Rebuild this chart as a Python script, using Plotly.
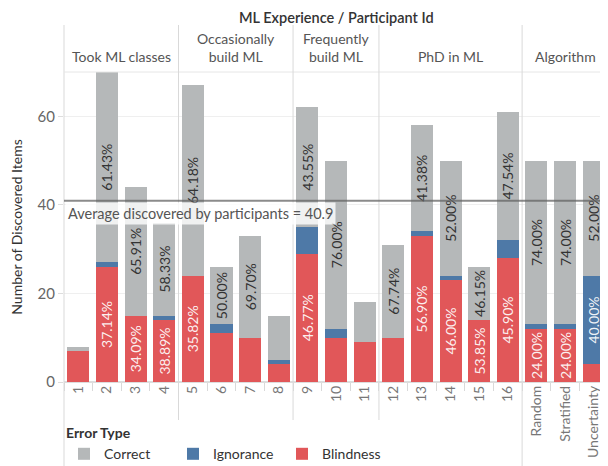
import plotly.graph_objects as go

participants = ["1", "2", "3", "4", "5", "6", "7", "8", "9", "10", "11", "12",
                "13", "14", "15", "16", "Random", "Stratified", "Uncertainty"]
groups = ["Took ML classes", "Occasionally<br>build ML", "Frequently<br>build ML", "PhD in ML", "Algorithm"]
group_sizes = [4, 4, 3, 5, 3]
correct = [1, 43, 29, 21, 43, 13, 23, 10, 27, 38, 9, 21, 24, 26, 12, 29, 37, 37, 26]
ignorance = [0, 1, 0, 1, 0, 2, 0, 1, 6, 2, 0, 0, 1, 1, 0, 4, 1, 1, 20]
blindness = [7, 26, 15, 14, 24, 11, 10, 4, 29, 10, 9, 10, 33, 23, 14, 28, 12, 12, 4]

n_people = sum(group_sizes[:-1])
totals = [c + i + b for c, i, b in zip(correct, ignorance, blindness)]
average = sum(totals[:n_people]) / n_people

FONT = "Lato"
GRAY, BLUE, RED = "#b5b8b9", "#4e79a7", "#e15759"
MIN_LABEL = 12


def labels(vals):
    return [f"{v / t * 100:.2f}%" if v >= MIN_LABEL else "" for v, t in zip(vals, totals)]


fig = go.Figure()
for name, vals, color, tcol in [("Blindness", blindness, RED, "rgba(255,255,255,0.92)"),
                                 ("Ignorance", ignorance, BLUE, "rgba(255,255,255,0.92)"),
                                 ("Correct", correct, GRAY, "#333333")]:
    fig.add_trace(go.Bar(
        x=participants, y=vals, name=name, marker=dict(color=color, line=dict(width=0)),
        text=labels(vals), textposition="inside", insidetextanchor="middle",
        textangle=-90, textfont=dict(family=FONT, size=14, color=tcol),
        hoverinfo="skip"))

# page body has an 8px margin: work in screen pixels and convert
OFF = 8
W, H = 608 - OFF, 466 - OFF
S_LEFT, S_TOP, S_BOT = 64, 72, 382
ph = S_BOT - S_TOP


def py(pix):
    return (S_BOT - pix) / ph


line_col = "#d9d9d9"
shapes = []
shapes.append(dict(type="line", xref="paper", yref="paper", x0=0, x1=0, y0=py(25), y1=py(470),
                   line=dict(color=line_col, width=1)))
shapes.append(dict(type="line", xref="paper", yref="paper", x0=0, x1=1, y0=1, y1=1,
                   line=dict(color="#e6e6e6", width=1)))
pos = -0.5
for gi, s in enumerate(group_sizes[:-1]):
    pos += s
    bottom = 470 if gi == len(group_sizes) - 2 else 420
    shapes.append(dict(type="line", xref="x", yref="paper", x0=pos, x1=pos, y0=py(25), y1=py(bottom),
                       line=dict(color=line_col, width=1)))
shapes.append(dict(type="line", xref="paper", yref="y", x0=0, x1=1, y0=average, y1=average,
                   line=dict(color="rgba(100,100,100,0.75)", width=2), layer="above"))

annotations = []
start = 0
for g, s in zip(groups, group_sizes):
    center = start + (s - 1) / 2
    annotations.append(dict(text=g, x=center, xref="x", y=py(67), yref="paper", yanchor="bottom",
                            showarrow=False, font=dict(family=FONT, size=14, color="#555555")))
    start += s
annotations.append(dict(text="ML Experience / Participant Id", x=0.5, xref="paper", y=py(17.5), yref="paper",
                        yanchor="middle", showarrow=False, borderpad=0,
                        font=dict(family=FONT, size=14.5, color="#333333", weight=600)))
annotations.append(dict(text=f"Average discovered by participants = {average:.1f}", x=0, xref="paper",
                        xanchor="left", xshift=1, y=average, yref="y", yanchor="top", yshift=-1,
                        showarrow=False, bgcolor="rgba(255,255,255,0.8)", borderpad=2,
                        font=dict(family=FONT, size=14.5, color="#555555")))

fig.update_layout(
    width=W, height=H, barmode="stack", bargap=0.23,
    margin=dict(l=S_LEFT - OFF, r=0, t=S_TOP - OFF, b=H - (S_BOT - OFF), autoexpand=False),
    paper_bgcolor="white", plot_bgcolor="white",
    font=dict(family=FONT, color="#555555"),
    shapes=shapes, annotations=annotations,
    uniformtext=dict(minsize=14, mode="show"),
    showlegend=True,
    legend=dict(orientation="h", traceorder="reversed", x=0, xanchor="left", y=py(420), yanchor="top",
                title=dict(text="<b>Error Type</b>", side="top", font=dict(family=FONT, size=14, color="#333333")),
                font=dict(family=FONT, size=14, color="#333333"), entrywidth=64,
                bgcolor="rgba(255,255,255,0)"),
)
fig.update_xaxes(type="category", range=[-0.5, 18.5], tickangle=-90, ticks="outside", tickson="boundaries",
                 ticklen=8, tickcolor=line_col, showgrid=False, showline=False, automargin=False,
                 tickfont=dict(family=FONT, size=14, color="#777777"))
fig.update_yaxes(range=[0, 70], tickvals=[0, 20, 40, 60], showgrid=True, gridcolor="#efefef",
                 zeroline=True, zerolinecolor="#dddddd", ticks="outside", ticklen=5, tickcolor="#dddddd",
                 automargin=False, tickfont=dict(family=FONT, size=15, color="#666666"),
                 title=dict(text="Number of Discovered Items", font=dict(family=FONT, size=14, color="#333333"),
                            standoff=12))

fig.write_html("out.html")
